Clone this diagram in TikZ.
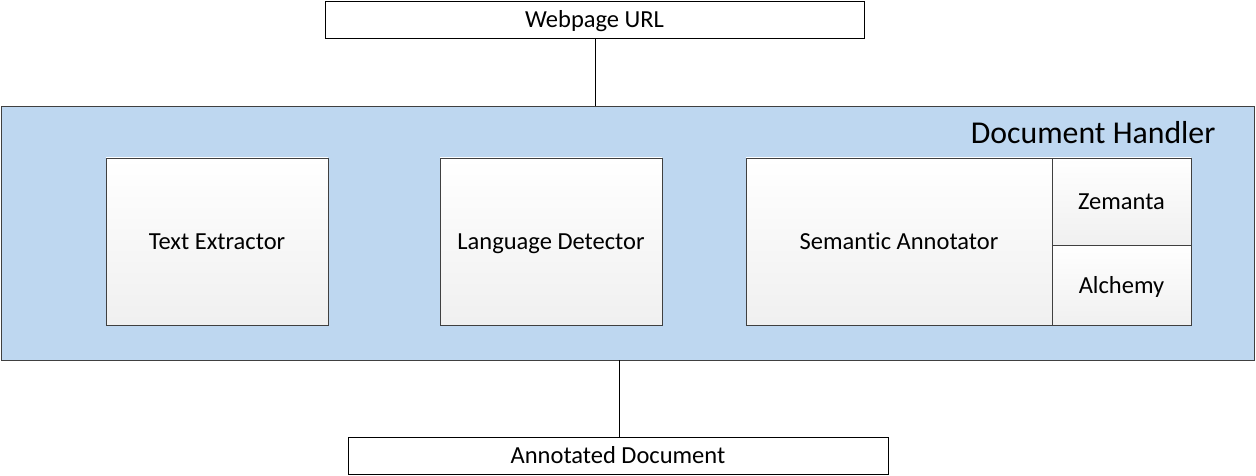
\documentclass[tikz,border=0pt]{standalone}
\usepackage{fontspec}
\setmainfont{Carlito}[Ligatures={NoCommon,NoRequired,NoContextual}]
\begin{document}
\begin{tikzpicture}[x=1pt,y=-1pt,
  io/.style={draw=black,fill=white,line width=0.9pt},
  inner/.style={draw=black!75,line width=0.9pt,top color=white,bottom color=black!6},
  lbl/.style={font=\fontsize{24.5}{28}\selectfont,text height=16pt,text depth=0pt}]
\useasboundingbox (0,0) rectangle (1256,476);
\fill[white] (0,0) rectangle (1256,476);
% outer container
\draw[fill={rgb,255:red,190;green,215;blue,240},draw=black!75,line width=0.9pt] (1,106) rectangle (1254,360);
\node[anchor=east,font=\fontsize{31.8}{36}\selectfont] (dh) at (1219,133) {Document Handler};
\coordinate (dhtopc) at (595,106);
\coordinate (dhbotc) at (619,360);
% inputs/outputs
\node[io,minimum width=539pt,minimum height=37pt,inner sep=0pt,lbl] (url) at (594.5,19.5) {Webpage URL};
\node[io,minimum width=540pt,minimum height=37pt,inner sep=0pt,lbl] (ann) at (618,455.5) {Annotated Document};
\draw[line width=0.9pt] (url.south -| dhtopc) -- (dhtopc);
\draw[line width=0.9pt] (dhbotc) -- (ann.north -| dhbotc);
% inner components
\node[inner,minimum width=222pt,minimum height=167pt,inner sep=0pt,lbl] (te) at (217,241.5) {Text Extractor};
\node[inner,minimum width=222pt,minimum height=167pt,inner sep=0pt,lbl] (ld) at (551,241.5) {Language Detector};
\node[inner,minimum width=306pt,minimum height=167pt,inner sep=0pt,lbl] (sa) at (899,241.5) {Semantic Annotator};
\node[inner,minimum width=139pt,minimum height=87pt,inner sep=0pt,lbl] (ze) at (1121.5,201.5) {Zemanta};
\node[inner,minimum width=139pt,minimum height=80pt,inner sep=0pt,lbl] (al) at (1121.5,285) {Alchemy};
\end{tikzpicture}
\end{document}
